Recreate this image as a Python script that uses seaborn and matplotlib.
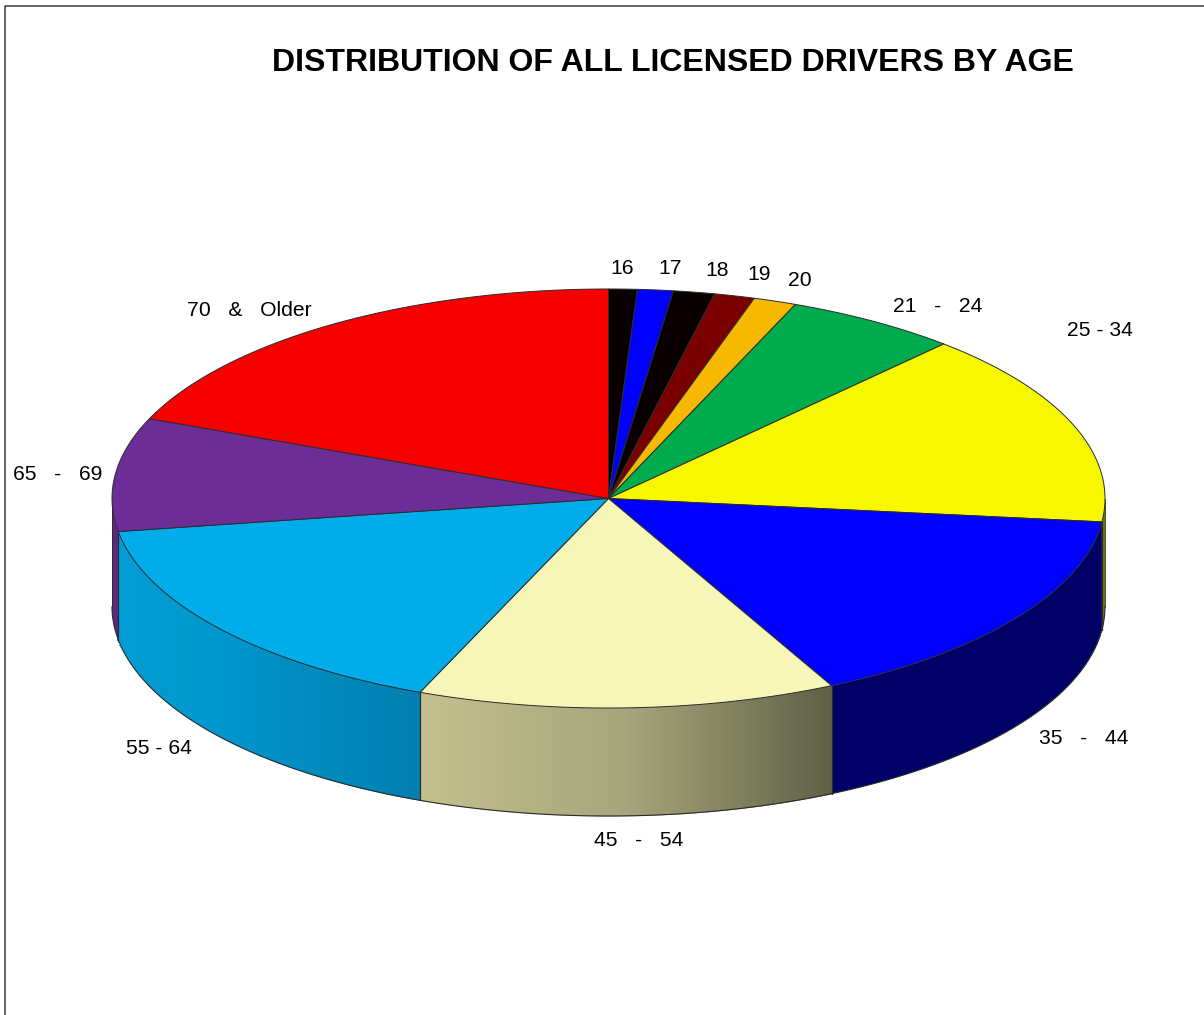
import numpy as np
import matplotlib
matplotlib.use('Agg')
import matplotlib.pyplot as plt
import seaborn as sns

# age groups, clockwise from the top of the pie
ages = ['16', '17', '18', '19', '20', '21   -   24', '25 - 34', '35   -   44',
        '45   -   54', '55 - 64', '65   -   69', '70   &   Older']
shares = [0.93, 1.16, 1.34, 1.32, 1.40, 5.66, 15.0, 15.82, 13.63, 16.3, 8.75, 18.8]

top_colors = ['#0a0000', '#0000ff', '#0a0000', '#7b0000', '#f7b900', '#00ab4e',
              '#f7f700', '#0000ff', '#f6f6b9', '#00adea', '#6c2d96', '#f70000']
# wall shading left -> right, only slices that reach the front half
wall_colors = {6: ['#757500'],
               7: ['#000066'],
               8: ['#c4c08e', '#a4a57b', '#5f5f45'],
               9: ['#009dd4', '#0098cd', '#007fb0'],
               10: ['#5a2a80']}

label_xy = [(622, 269), (670, 269), (717, 271), (759, 275), (800, 280), (938, 307),
            (1100, 330), (1084, 738), (639, 841), (159, 749), (58, 475), (249, 310)]

cx, cy, rx, ry, depth = 608.5, 498.5, 496.5, 209.5, 108
edge = '#2b2b2b'

sns.set_theme(style='white')
plt.rcParams['font.family'] = ['Liberation Sans', 'DejaVu Sans']

fig = plt.figure(figsize=(12.04, 10.15), dpi=100)
ax = fig.add_axes([0, 0, 1, 1])
ax.set_xlim(0, 1204)
ax.set_ylim(1015, 0)
ax.axis('off')


def rim(a, b, n=160):
    t = np.radians(np.linspace(a, b, n))
    return cx + rx * np.sin(t), cy - ry * np.cos(t)


# slice limits in degrees from the shares
stops = np.concatenate([[0], np.cumsum(shares)]) / sum(shares) * 360

# outer frame, it runs off the right and bottom of the picture
ax.plot([5, 5, 1204], [1015, 5.5, 5.5], color='#3a3a3a', lw=1.1, solid_capstyle='butt')

###---------------- walls ----------------###
for i, shades in wall_colors.items():
    a, b = max(stops[i], 90), min(stops[i + 1], 270)
    x, y = rim(a, b, 120)
    order = np.argsort(x)
    xs, ys = x[order], y[order]
    if len(shades) == 1:
        ax.fill(np.r_[xs, xs[::-1]], np.r_[ys, ys[::-1] + depth], color=shades[0], lw=0, zorder=2)
    else:
        pal = sns.blend_palette(shades, n_colors=len(xs))
        for k in range(len(xs) - 1):
            # no antialiasing here or the seams between strips show up as bands
            ax.fill([xs[k], xs[k + 1], xs[k + 1], xs[k]],
                    [ys[k], ys[k + 1], ys[k + 1] + depth, ys[k] + depth],
                    color=pal[k], lw=0.6, antialiased=False, zorder=2)
        # white band under the strips smooths their stepped lower edge
        ax.fill_between(xs, ys + depth, ys + depth + 3, color='white', lw=0, zorder=2.5)
    ax.plot(x, y + depth, color=edge, lw=0.8, zorder=3)
    for t in (a, b):
        if 90 < t < 270:
            px, py = rim(t, t, 1)
            ax.plot([px[0], px[0]], [py[0], py[0] + depth], color=edge, lw=0.8, zorder=3)

# silhouette at both ends of the cake
for t in (90, 270):
    px, py = rim(t, t, 1)
    ax.plot([px[0], px[0]], [py[0], py[0] + depth], color=edge, lw=0.6, zorder=3)

###---------------- top face ----------------###
for i, c in enumerate(top_colors):
    x, y = rim(stops[i], stops[i + 1])
    ax.fill(np.r_[cx, x], np.r_[cy, y], facecolor=c, edgecolor=edge, lw=0.7,
            joinstyle='round', zorder=4)

###---------------- labels ----------------###
for name, (lx, ly) in zip(ages, label_xy):
    ax.text(lx, ly, name, ha='center', va='center', fontsize=15.2, color='black', zorder=5)

ax.text(673, 63, 'DISTRIBUTION OF ALL LICENSED DRIVERS BY AGE', ha='center', va='center',
        fontsize=23.0, fontweight='bold', color='black')

fig.savefig('out.png', dpi=100)
